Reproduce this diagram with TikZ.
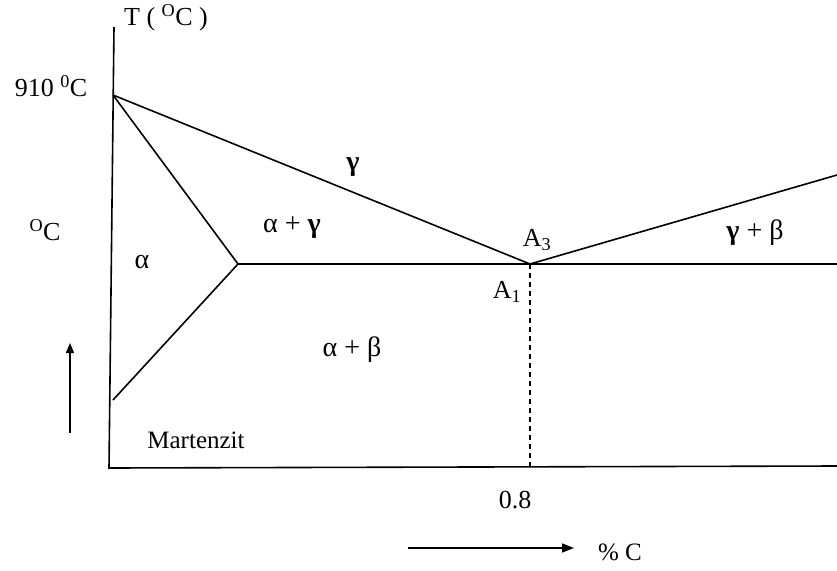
\documentclass[tikz,border=0pt]{standalone}
\usepackage{fontspec}
\setmainfont{Liberation Serif}
\usetikzlibrary{arrows.meta}
\begin{document}
\begin{tikzpicture}[x=1pt,y=-1pt,
  ln/.style={line width=1.6pt},
  lbl/.style={inner sep=0pt,font=\fontsize{26}{28}\selectfont},
  gk/.style={inner sep=0pt,font=\fontsize{28}{30}\selectfont},
  small/.style={inner sep=0pt,font=\fontsize{25}{27}\selectfont}]
\useasboundingbox (0,0) rectangle (837,570);
% coordinates
\coordinate (top) at (114,27);
\coordinate (origin) at (109,468);
\coordinate (xend) at (837,466);
\coordinate (p910) at (113,95);
\coordinate (triple) at (238,264);
\coordinate (low) at (113,400);
\coordinate (A) at (530,264);
\coordinate (hend) at (837,264);
\coordinate (gend) at (837,175);
\coordinate (dbot) at (530,467);
% axes
\draw[ln] (top) -- (origin) -- (xend);
% phase lines
\draw[ln] (p910) -- (A) -- (gend);
\draw[ln] (p910) -- (triple) -- (low);
\draw[ln] (triple) -- (hend);
\draw[ln,dashed,dash pattern=on 5pt off 4pt] (A) -- (dbot);
% arrows
\coordinate (ua) at (70,433);
\coordinate (ub) at (70,343);
\draw[ln,-{Triangle[length=10pt,width=8pt]}] (ua) -- (ub);
\coordinate (ra) at (408,548);
\coordinate (rb) at (574,548);
\draw[ln,-{Triangle[length=12pt,width=9pt]}] (ra) -- (rb);
% labels
\node[lbl] (tlab) at (166,18) {T ( \textsuperscript{O}C )};
\node[lbl] (t910) at (51,86) {910 \textsuperscript{0}C};
\node[lbl] (oc) at (45,230) {\textsuperscript{O}C};
\node[gk] (alpha) at (142,262) {α};
\node[gk] (gamma) at (353,167) {\textbf{γ}};
\node[gk] (ag) at (292,228) {α + \textbf{γ}};
\node[lbl] (a3) at (537,240) {A\textsubscript{3}};
\node[gk] (gb) at (755,233) {\textbf{γ} + β};
\node[lbl] (a1) at (507,292) {A\textsubscript{1}};
\node[gk] (ab) at (352,350) {α + β};
\node[small] (mart) at (196,440) {Martenzit};
\node[lbl] (z8) at (515,500) {0.8};
\node[small] (pc) at (620,552) {\% C};
\end{tikzpicture}
\end{document}
